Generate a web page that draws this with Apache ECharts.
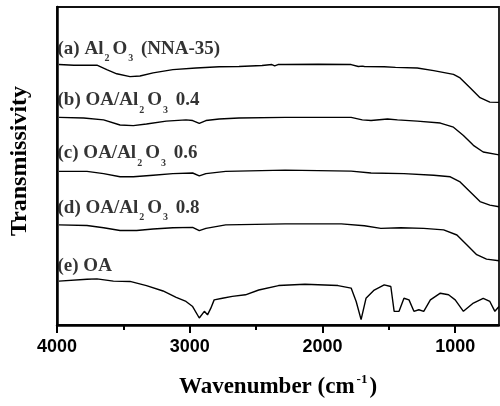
<!DOCTYPE html>
<html>
<head>
<meta charset="utf-8">
<script src="https://cdn.jsdelivr.net/npm/echarts@6/dist/echarts.min.js"></script>
<style>html,body{margin:0;padding:0;background:#fff}#c{width:500px;height:406px}</style>
</head>
<body>
<div id="c"></div>
<script>
// Wavenumber (cm-1) and transmissivity (arbitrary, offset) for each spectrum
var waveA = [3985,3873,3699,3625,3550,3450,3375,3276,3127,2953,2778,2629,2455,2381,2360,2335,2281,2032,1784,1730,1700,1684,1535,1450,1286,1162,1013,963,888,813,739,670];
var transA = [81.9,81.7,81.7,80.3,79.0,78.1,78.3,79.3,80.3,80.8,81.2,81.3,81.6,81.9,81.5,81.9,81.9,82.0,81.9,81.3,81.4,81.3,81.2,81.0,80.8,80.0,78.8,77.7,74.6,71.5,70.1,70.0];

var waveB = [3985,3799,3649,3525,3425,3326,3177,3028,2978,2928,2878,2778,2629,2281,1784,1700,1634,1510,1435,1286,1112,1013,938,863,789,670];
var transB = [65.3,65.1,64.5,62.9,62.7,63.2,64.1,64.5,64.3,63.4,64.3,64.8,65.1,65.3,65.3,64.5,64.3,64.8,64.5,64.1,63.5,62.2,59.6,56.5,54.4,53.5];

var waveC = [3985,3774,3649,3525,3425,3276,3127,2978,2928,2878,2729,2281,1784,1634,1386,1162,1037,963,888,813,739,670];
var transC = [48.3,48.3,47.6,46.6,46.6,47.1,47.6,47.8,46.9,47.6,48.3,48.7,48.4,47.8,47.6,47.1,46.6,45.0,41.9,38.8,37.7,37.2];

var waveD = [3985,3774,3649,3525,3400,3276,3127,2978,2928,2878,2729,2281,1858,1684,1560,1410,1237,1087,987,913,838,764,670];
var transD = [31.5,31.3,30.6,29.7,29.7,30.2,30.6,30.7,29.7,30.4,31.5,31.8,31.8,31.2,30.4,30.6,30.4,29.9,28.3,25.2,22.1,20.7,20.2];

var waveE = [3985,3774,3699,3575,3450,3326,3201,3102,3028,2978,2928,2890,2866,2841,2816,2754,2679,2580,2480,2331,2132,1883,1784,1746,1709,1672,1610,1535,1485,1460,1423,1386,1348,1311,1274,1237,1187,1112,1050,1000,938,863,789,739,701,670];
var transE = [13.8,14.4,14.5,13.8,13.7,12.4,10.7,8.7,7.4,5.8,2.2,4.3,3.2,5.3,7.9,8.4,9.0,9.5,11.0,12.4,12.8,12.4,11.6,7.4,1.7,8.4,11.0,12.6,12.1,4.3,4.3,8.4,7.9,4.3,4.8,4.3,7.9,10.0,9.5,7.9,4.3,6.9,8.4,7.4,4.3,5.8];

var seriesLabels = ["(a) Al{s|2}O{s|3} (NNA-35)", "(b) OA/Al{s|2}O{s|3} 0.4", "(c) OA/Al{s|2}O{s|3} 0.6", "(d) OA/Al{s|2}O{s|3} 0.8", "(e) OA"];
var labelY = [86.9, 70.6, 54.1, 36.9, 18.6];
var labelX = 3996;

var majorTicks = [4000, 3000, 2000, 1000];
var minorTicks = [3500, 2500, 1500];
var xMin = 670, xMax = 4000;

function zip(a, b) { return a.map(function (v, i) { return [v, b[i]]; }); }

var serif = 'Liberation Serif';
var lines = [[waveA, transA], [waveB, transB], [waveC, transC], [waveD, transD], [waveE, transE]];
var series = lines.map(function (p) {
  return {
    type: 'line', data: zip(p[0], p[1]), showSymbol: false, symbol: 'none',
    lineStyle: { color: '#000', width: 1.4 }, silent: true, animation: false
  };
});
series.push({
  type: 'scatter', symbolSize: 0, silent: true, animation: false,
  data: labelY.map(function (y, i) { return { value: [labelX, y], name: seriesLabels[i] }; }),
  label: {
    show: true, position: 'right', distance: 0,
    formatter: function (p) { return p.name; },
    fontFamily: serif, fontWeight: 'bold', fontSize: 19, color: '#000', lineHeight: 30,
    rich: { s: { fontFamily: serif, fontWeight: 'bold', fontSize: 10, lineHeight: 10, verticalAlign: 'bottom', color: '#000', padding: [0, 3, 0, 1] } }
  }
});

var chart = echarts.init(document.getElementById('c'), null, { renderer: 'canvas' });
chart.setOption({
  animation: false,
  backgroundColor: '#fff',
  grid: { left: 53, right: 1, top: 7, bottom: 79, show: true, borderColor: '#111', borderWidth: 1.8, containLabel: false },
  xAxis: [{
    type: 'value', inverse: true, min: xMin, max: xMax, position: 'bottom',
    axisLine: { show: true, onZero: false, lineStyle: { color: '#000', width: 2.5 } },
    axisTick: { show: true, inside: false, length: 8, customValues: majorTicks, lineStyle: { color: '#000', width: 2 } },
    axisLabel: { show: true, customValues: majorTicks, margin: 13, fontFamily: 'Liberation Sans', fontWeight: 'bold', fontSize: 18, color: '#000',
      formatter: function (v) { return String(v); } },
    splitLine: { show: false },
    name: 'Wavenumber (cm{sup|-1})', nameLocation: 'middle', nameGap: 48,
    nameTextStyle: { fontFamily: serif, fontWeight: 'bold', fontSize: 23, color: '#000', lineHeight: 28,
      rich: { sup: { fontFamily: serif, fontWeight: 'bold', fontSize: 13, lineHeight: 10, verticalAlign: 'top', color: '#000', padding: [0, 2, 0, 2] } } }
  }, {
    type: 'value', inverse: true, min: xMin, max: xMax, position: 'bottom',
    axisLine: { show: false, onZero: false },
    axisTick: { show: true, inside: false, length: 5, customValues: minorTicks, lineStyle: { color: '#000', width: 2 } },
    axisLabel: { show: false }, splitLine: { show: false }
  }],
  yAxis: [{
    type: 'value', min: 0, max: 100, position: 'left',
    axisLine: { show: true, onZero: false, lineStyle: { color: '#000', width: 2.5 } },
    axisTick: { show: false }, axisLabel: { show: false }, splitLine: { show: false },
    name: 'Transmissivity', nameLocation: 'middle', nameGap: 25, nameRotate: 90,
    nameTextStyle: { fontFamily: serif, fontWeight: 'bold', fontSize: 24, color: '#000', padding: [0, 0, 0, 10] }
  }],
  series: series
});
</script>
</body>
</html>
